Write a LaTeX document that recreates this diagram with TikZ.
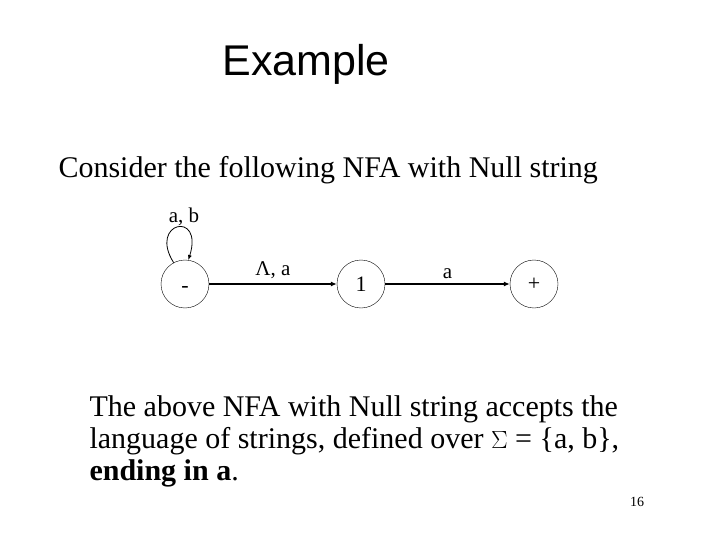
\documentclass[tikz,border=0pt]{standalone}
\usepackage{fontspec}
\setmainfont{Liberation Serif}
\newfontfamily\arialfont{Liberation Sans}
\usetikzlibrary{arrows.meta}
\begin{document}
\begin{tikzpicture}[x=1pt,y=-1pt,
  state/.style={draw,circle,minimum size=48pt,inner sep=0pt,font=\fontsize{22}{24}\selectfont},
  lbl/.style={font=\fontsize{21}{24}\selectfont,inner sep=1pt},
  edge/.style={draw,line width=1.3pt,-{Latex[length=6pt,width=5pt]}}]
\useasboundingbox (0,0) rectangle (720,540);
\node[font=\arialfont\fontsize{43}{48}\selectfont] (title) at (306,64) {Example};
\node[anchor=west,font=\fontsize{30}{33}\selectfont] (intro) at (55,170) {Consider the following NFA with Null string};
\node[state] (s0) at (185,284) {\smash{\raisebox{-8pt}{-}}};
\node[state] (s1) at (361,284) {1};
\node[state] (s2) at (534,284) {+};
\draw[edge] (s0) -- node[lbl,above,yshift=4pt] (l1) {Λ, a} (s1);
\draw[edge] (s1) -- node[lbl,above,yshift=4pt] (l2) {a} (s2);
\draw[line width=0.8pt,-{Latex[length=5pt,width=4pt]}] (s0.118) .. controls (148,222) and (204,210) .. (s0.82);
\node[lbl] (l0) at (184,217) {a, b};
\node[anchor=north west,align=left,font=\fontsize{30}{32}\selectfont] (desc) at (86,392)
  {The above NFA with Null string accepts the\\language of strings, defined over $\Sigma$ = \{a, b\},\\\textbf{ending in a}.};
\node[font=\fontsize{14}{16}\selectfont] (num) at (637,502) {16};
\end{tikzpicture}
\end{document}
